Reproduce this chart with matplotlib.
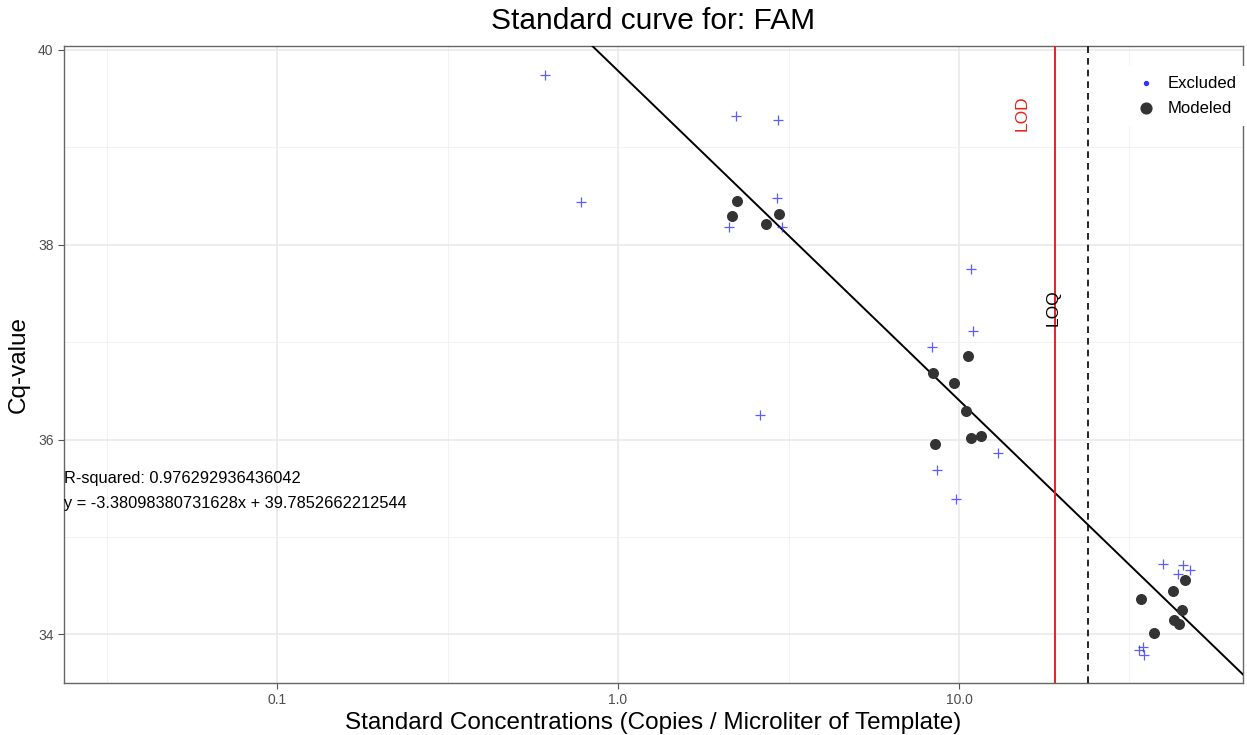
import numpy as np
import matplotlib.pyplot as plt
import matplotlib.transforms as mtransforms

plt.rcParams['font.family'] = ['Liberation Sans', 'DejaVu Sans']

# Excluded standards (blue crosses)
excl_conc = [0.611, 0.779, 2.22, 2.94, 2.93, 2.12, 3.03, 2.61,
             10.85, 10.99, 8.33, 13.0, 8.62, 9.80,
             39.7, 45.4, 43.9, 47.6, 33.7, 34.7, 34.9]
excl_cq = [39.74, 38.44, 39.32, 39.28, 38.48, 38.18, 38.18, 36.25,
           37.75, 37.11, 36.95, 35.86, 35.69, 35.39,
           34.72, 34.71, 34.615, 34.66, 33.84, 33.87, 33.79]

# Modeled standards (dark dots)
mod_conc = [2.23, 2.16, 2.72, 2.97,
            10.63, 8.39, 9.67, 10.48, 10.85, 11.6, 8.5,
            46.0, 42.4, 34.2, 45.1, 42.7, 44.2, 37.3]
mod_cq = [38.45, 38.29, 38.21, 38.32,
          36.855, 36.68, 36.58, 36.29, 36.02, 36.04, 35.95,
          34.553, 34.44, 34.36, 34.245, 34.15, 34.11, 34.01]

slope = -3.38098380731628
intercept = 39.7852662212544
r_squared = 0.976292936436042
lod = 19.1
loq = 23.9

fig = plt.figure(figsize=(12.47, 7.35), dpi=100)
ax = fig.add_axes([0.0513, 0.0707, 0.9455, 0.8667])
ax.set_xscale('log')
ax.set_xlim(0.0237, 68.1)
ax.set_ylim(33.5, 40.04)

# grid like ggplot theme_bw
ax.set_xticks([0.1, 1, 10])
ax.set_xticklabels(['0.1', '1.0', '10.0'])
ax.set_xticks([10 ** -1.5, 10 ** -0.5, 10 ** 0.5, 10 ** 1.5], minor=True)
ax.set_yticks([34, 36, 38, 40])
ax.set_yticks([35, 37, 39], minor=True)
ax.grid(which='major', color='#E8E8E8', linewidth=1.1)
ax.grid(which='minor', color='#F0F0F0', linewidth=0.6)
ax.set_axisbelow(True)
ax.tick_params(which='minor', length=0)
ax.tick_params(which='major', length=4, color='#555555', labelcolor='#4D4D4D', labelsize=10)
for s in ax.spines.values():
    s.set_color('#666666')
    s.set_linewidth(1)

# regression line
xs = np.logspace(np.log10(0.0237), np.log10(68.1), 200)
ax.plot(xs, slope * np.log10(xs) + intercept, color='black', linewidth=1.4, zorder=3)

ax.scatter(excl_conc, excl_cq, marker='+', s=45, color='#3333FF', alpha=0.8,
           linewidths=0.9, zorder=4)
ax.scatter(mod_conc, mod_cq, marker='o', s=48, color='#333333', zorder=4)

# LOD / LOQ
ax.axvline(lod, color='#E8221B', linewidth=1.4, zorder=3)
ax.axvline(loq, color='black', linewidth=1.2, linestyle=(0, (4, 3)), zorder=3)
ax.text(lod * 0.8, 39.35, 'LOD', rotation=90, color='#E8221B', fontsize=12.5,
        ha='center', va='center')
ax.text(loq * 0.79, 37.35, 'LOQ', rotation=90, color='black', fontsize=12.5,
        ha='center', va='center')

trans = mtransforms.blended_transform_factory(ax.transAxes, ax.transData)
ax.text(0.0, 35.6, 'R-squared: %s' % r_squared, transform=trans,
        fontsize=11.8, ha='left', va='center', color='black')
ax.text(0.0, 35.34, 'y = %sx + %s' % (slope, intercept), transform=trans,
        fontsize=11.8, ha='left', va='center', color='black')

# legend
h1 = ax.scatter([], [], marker='o', s=8, color='#3333FF', label='Excluded')
h2 = ax.scatter([], [], marker='o', s=60, color='#333333', label='Modeled')
leg = ax.legend(handles=[h1, h2], loc='upper right', bbox_to_anchor=(1.01, 0.982),
                frameon=True, facecolor='white', edgecolor='none', framealpha=1,
                fontsize=12, handletextpad=0.3, borderpad=0.6, labelspacing=0.6,
                fancybox=False)
leg.set_zorder(10)

ax.set_title('Standard curve for: FAM', fontsize=21.5, pad=12)
ax.set_xlabel('Standard Concentrations (Copies / Microliter of Template)', fontsize=17.5, labelpad=3)
ax.set_ylabel('Cq-value', fontsize=17.5, labelpad=6)

fig.savefig('out.png', dpi=100)
